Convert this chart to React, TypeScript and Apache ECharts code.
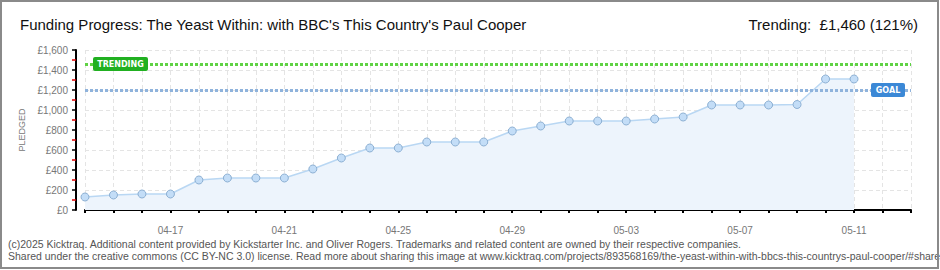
import React, { useEffect, useRef } from "react";
import * as echarts from "echarts";

const TITLE = "Funding Progress: The Yeast Within: with BBC's This Country's Paul Cooper";
const TRENDING_TEXT = "Trending:  £1,460 (121%)";
const FOOTER_1 =
  "(c)2025 Kicktraq. Additional content provided by Kickstarter Inc. and Oliver Rogers. Trademarks and related content are owned by their respective companies.";
const FOOTER_2 =
  "Shared under the creative commons (CC BY-NC 3.0) license. Read more about sharing this image at www.kicktraq.com/projects/893568169/the-yeast-within-with-bbcs-this-countrys-paul-cooper/#share";

const DATES = [
  "04-14", "04-15", "04-16", "04-17", "04-18", "04-19", "04-20", "04-21", "04-22", "04-23",
  "04-24", "04-25", "04-26", "04-27", "04-28", "04-29", "04-30", "05-01", "05-02", "05-03",
  "05-04", "05-05", "05-06", "05-07", "05-08", "05-09", "05-10", "05-11", "05-12", "05-13",
];

const PLEDGED = [
  130, 150, 160, 160, 300, 320, 320, 320, 410, 520,
  620, 620, 680, 680, 680, 790, 840, 890, 890, 890,
  910, 930, 1050, 1050, 1050, 1055, 1310, 1310,
];

const GOAL = 1200;
const TRENDING = 1460;
const Y_MIN = 0;
const Y_MAX = 1600;
const Y_INTERVAL = 200;

const LABEL_FONT = "'Liberation Sans', 'DejaVu Sans', sans-serif";
const TITLE_FONT = "'Liberation Sans', sans-serif";

export default function App() {
  const ref = useRef<HTMLDivElement>(null);

  useEffect(() => {
    document.body.style.margin = "0";
    const chart = echarts.init(ref.current!, null, { renderer: "svg" });
    chart.setOption({
      animation: false,
      backgroundColor: "#ffffff",
      grid: { left: 85, right: 29, top: 50, bottom: 60, containLabel: false },
      xAxis: {
        type: "category",
        data: DATES,
        boundaryGap: false,
        offset: 10,
        axisLine: { lineStyle: { color: "#000", width: 2 } },
        axisTick: { show: true, interval: 0, length: 3, lineStyle: { color: "#000", width: 2 } },
        axisLabel: {
          interval: (i: number) => i % 4 === 3,
          color: "#777",
          fontSize: 10,
          fontFamily: LABEL_FONT,
          margin: 5,
        },
        splitLine: { show: true, interval: 0, lineStyle: { color: "#e4e4e4", type: [4, 3] } },
      },
      yAxis: {
        type: "value",
        min: Y_MIN,
        max: Y_MAX,
        interval: Y_INTERVAL,
        offset: 9,
        name: "PLEDGED",
        nameLocation: "middle",
        nameGap: 46,
        nameRotate: 90,
        nameTextStyle: { color: "#777", fontSize: 9, fontFamily: LABEL_FONT },
        axisLine: { show: true, lineStyle: { color: "#000", width: 2 } },
        axisTick: { show: true, length: 4, lineStyle: { color: "#000", width: 1.5 } },
        minorTick: { show: true, splitNumber: 2, length: 4, lineStyle: { color: "#e00000", width: 1.5 } },
        axisLabel: {
          formatter: (v: number) => "£" + v.toLocaleString("en-US"),
          color: "#777",
          fontSize: 10,
          fontFamily: LABEL_FONT,
          margin: 8,
        },
        splitLine: { show: true, lineStyle: { color: "#e4e4e4", type: [4, 3] } },
      },
      series: [
        {
          type: "line",
          data: PLEDGED,
          symbol: "circle",
          symbolSize: 8,
          showSymbol: true,
          lineStyle: { color: "#b9d7f3", width: 1.5 },
          itemStyle: { color: "#c3ddf7", borderColor: "#8db0d3", borderWidth: 1 },
          areaStyle: { color: "#edf4fc", opacity: 1 },
          z: 3,
          markLine: {
            silent: true,
            symbol: "none",
            label: { show: false },
            lineStyle: { type: [3, 2], width: 3 },
            data: [
              { yAxis: TRENDING, lineStyle: { color: "#5fd244", type: [3, 2], width: 3 } },
              { yAxis: GOAL, lineStyle: { color: "#8fb3dc", type: [3, 2], width: 3 } },
            ],
          },
        },
      ],
    });

    const yT = chart.convertToPixel({ yAxisIndex: 0 }, TRENDING) as number;
    const yG = chart.convertToPixel({ yAxisIndex: 0 }, GOAL) as number;

    chart.setOption({
      graphic: [
        {
          type: "text",
          x: 20,
          y: 24,
          style: {
            text: TITLE,
            font: `15px ${TITLE_FONT}`,
            fill: "#111",
            textAlign: "left",
            textVerticalAlign: "middle",
          },
        },
        {
          type: "text",
          x: 918,
          y: 24,
          style: {
            text: TRENDING_TEXT,
            font: `15px ${TITLE_FONT}`,
            fill: "#111",
            textAlign: "right",
            textVerticalAlign: "middle",
          },
        },
        {
          type: "rect",
          zlevel: 1,
          z: 100,
          shape: { x: 93, y: yT - 7, width: 55, height: 14, r: 2 },
          style: { fill: "#21b021" },
        },
        {
          type: "text",
          zlevel: 1,
          z: 101,
          x: 120.5,
          y: yT,
          style: {
            text: "TRENDING",
            font: `bold 8px 'DejaVu Sans', sans-serif`,
            fill: "#fff",
            textAlign: "center",
            textVerticalAlign: "middle",
          },
        },
        {
          type: "rect",
          zlevel: 1,
          z: 100,
          shape: { x: 871, y: yG - 7, width: 34, height: 14, r: 2 },
          style: { fill: "#3b88d6" },
        },
        {
          type: "text",
          zlevel: 1,
          z: 101,
          x: 888,
          y: yG,
          style: {
            text: "GOAL",
            font: `bold 8px 'DejaVu Sans', sans-serif`,
            fill: "#fff",
            textAlign: "center",
            textVerticalAlign: "middle",
          },
        },
        {
          type: "text",
          x: 8,
          y: 244,
          style: {
            text: FOOTER_1,
            font: `10.5px ${LABEL_FONT}`,
            fill: "#555",
            textAlign: "left",
            textVerticalAlign: "middle",
          },
        },
        {
          type: "text",
          x: 8,
          y: 256,
          style: {
            text: FOOTER_2,
            font: `10.5px ${LABEL_FONT}`,
            fill: "#555",
            textAlign: "left",
            textVerticalAlign: "middle",
          },
        },
        {
          type: "rect",
          zlevel: 1,
          z: 200,
          shape: { x: 1, y: 1, width: 937, height: 267 },
          style: { fill: "none", stroke: "#8a8a8a", lineWidth: 2 },
        },
      ],
    });

    return () => chart.dispose();
  }, []);

  return <div ref={ref} style={{ width: 940, height: 270 }} />;
}
